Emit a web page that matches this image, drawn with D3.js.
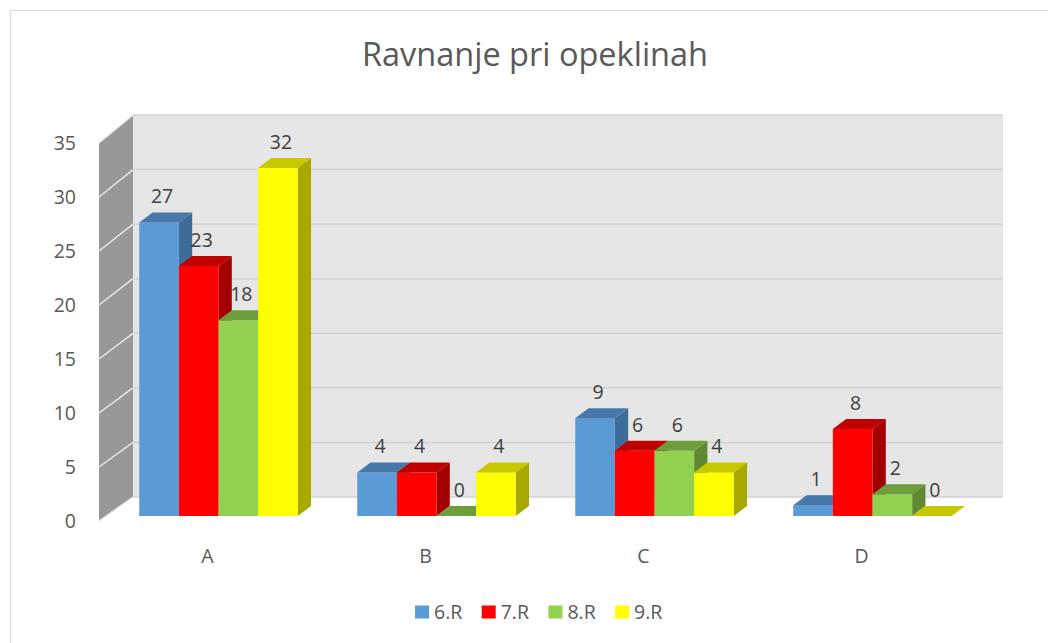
<!DOCTYPE html>
<html>
<head>
<meta charset="utf-8">
<script src="https://cdn.jsdelivr.net/npm/d3@7"></script>
<style>
  html, body { margin: 0; padding: 0; background: #fff; }
  svg { display: block; font-family: "Open Sans", sans-serif; }
  .tick-text, .cat-text, .legend-text { fill: #595959; font-size: 19.5px; }
  .bar-text { fill: #404040; font-size: 19.5px; }
  .title { fill: #595959; font-size: 32.5px; }
</style>
</head>
<body>
<div id="chart"></div>
<script>
const title = "Ravnanje pri opeklinah";
const categories = ["A", "B", "C", "D"];
const seriesNames = ["6.R", "7.R", "8.R", "9.R"];
const values6R = [27, 4, 9, 1];
const values7R = [23, 4, 6, 8];
const values8R = [18, 0, 6, 2];
const values9R = [32, 4, 4, 0];
const yTicks = [0, 5, 10, 15, 20, 25, 30, 35];

// front, top, side shades per series
const frontColors = ["#5B9BD5", "#FF0000", "#92D050", "#FFFF00"];
const topColors = ["#4878AA", "#C00000", "#6E9D3C", "#C8C800"];
const sideColors = ["#3E6C98", "#A30000", "#5F8A32", "#A8A800"];

const seriesValues = [values6R, values7R, values8R, values9R];
const data = categories.flatMap((c, ci) =>
  seriesNames.map((s, si) => ({ cat: c, series: s, si, value: seriesValues[si][ci] }))
);

const width = 1048;
const height = 643;

// depth offsets of the 3D box
const wallDx = 34, wallDy = -25;
const barDx = 13.3, barDy = -10;

const x0 = d3.scaleBand().domain(categories).range([109.5, 981.5]);
const x1 = d3.scaleBand().domain(seriesNames).range([29.75, 188.25]);

const yFront = d3.scaleLinear().domain([0, 35]).range([521, 143]);
const yBack = d3.scaleLinear().domain([0, 35]).range([497, 115]);
const yBar = d3.scaleLinear().domain([0, 35]).range([516, 135.4]);

const svg = d3.select("#chart").append("svg")
  .attr("width", width)
  .attr("height", height);

svg.append("rect")
  .attr("x", 10.5).attr("y", 10.5)
  .attr("width", 1100).attr("height", 700)
  .attr("fill", "#fff")
  .attr("stroke", "#D9D9D9");

svg.append("text")
  .attr("class", "title")
  .attr("x", 535).attr("y", 55)
  .attr("dy", "0.35em")
  .attr("text-anchor", "middle")
  .text(title);

// back wall
const wallLeft = 99 + wallDx, wallRight = 1003;
svg.append("rect")
  .attr("x", wallLeft).attr("y", yBack(35))
  .attr("width", wallRight - wallLeft)
  .attr("height", yBack(0) - yBack(35))
  .attr("fill", "#E6E6E6");

svg.append("g")
  .selectAll("line")
  .data(yTicks)
  .join("line")
  .attr("x1", wallLeft).attr("x2", wallRight)
  .attr("y1", (d) => yBack(d)).attr("y2", (d) => yBack(d))
  .attr("stroke", "#D2D2D2")
  .attr("stroke-width", 1.5);

// side wall
svg.append("path")
  .attr("d", `M99,${yFront(35)}L${wallLeft},${yBack(35)}L${wallLeft},${yBack(0)}L99,${yFront(0)}Z`)
  .attr("fill", "#989898");

svg.append("g")
  .selectAll("line")
  .data(yTicks)
  .join("line")
  .attr("x1", 99).attr("x2", wallLeft)
  .attr("y1", (d) => yFront(d)).attr("y2", (d) => yBack(d))
  .attr("stroke", "#E8E8E8")
  .attr("stroke-width", 1.5);

// y tick labels
svg.append("g")
  .selectAll("text")
  .data(yTicks)
  .join("text")
  .attr("class", "tick-text")
  .attr("x", 76)
  .attr("y", (d) => yFront(d))
  .attr("dy", "0.35em")
  .attr("text-anchor", "end")
  .text((d) => d);

// bars
const bw = x1.bandwidth();
const bars = svg.append("g")
  .selectAll("g")
  .data(data)
  .join("g")
  .attr("transform", (d) => `translate(${x0(d.cat) + x1(d.series)},0)`);

bars.append("path")
  .attr("d", (d) => {
    const t = yBar(d.value), b = yBar(0);
    return `M${bw},${t}L${bw + barDx},${t + barDy}L${bw + barDx},${b + barDy}L${bw},${b}Z`;
  })
  .attr("fill", (d) => sideColors[d.si]);

bars.append("rect")
  .attr("x", 0)
  .attr("y", (d) => yBar(d.value))
  .attr("width", bw)
  .attr("height", (d) => yBar(0) - yBar(d.value))
  .attr("fill", (d) => frontColors[d.si]);

bars.append("path")
  .attr("d", (d) => {
    const t = yBar(d.value);
    return `M0,${t}L${barDx},${t + barDy}L${bw + barDx},${t + barDy}L${bw},${t}Z`;
  })
  .attr("fill", (d) => topColors[d.si]);

// value labels
svg.append("g")
  .selectAll("text")
  .data(data)
  .join("text")
  .attr("class", "bar-text")
  .attr("x", (d) => x0(d.cat) + x1(d.series) + bw / 2 + 3)
  .attr("y", (d) => yBar(d.value) - 26)
  .attr("dy", "0.35em")
  .attr("text-anchor", "middle")
  .text((d) => d.value);

// category labels
svg.append("g")
  .selectAll("text")
  .data(categories)
  .join("text")
  .attr("class", "cat-text")
  .attr("x", (d) => x0(d) + x0.bandwidth() / 2 - 11)
  .attr("y", 556)
  .attr("dy", "0.35em")
  .attr("text-anchor", "middle")
  .text((d) => d);

// legend
const legend = svg.append("g")
  .selectAll("g")
  .data(seriesNames)
  .join("g")
  .attr("transform", (d, i) => `translate(${415 + i * 66.7},612)`);

legend.append("rect")
  .attr("x", 0).attr("y", -6.5)
  .attr("width", 14).attr("height", 13)
  .attr("fill", (d, i) => frontColors[i]);

legend.append("text")
  .attr("class", "legend-text")
  .attr("x", 19)
  .attr("dy", "0.35em")
  .text((d) => d);
</script>
</body>
</html>
